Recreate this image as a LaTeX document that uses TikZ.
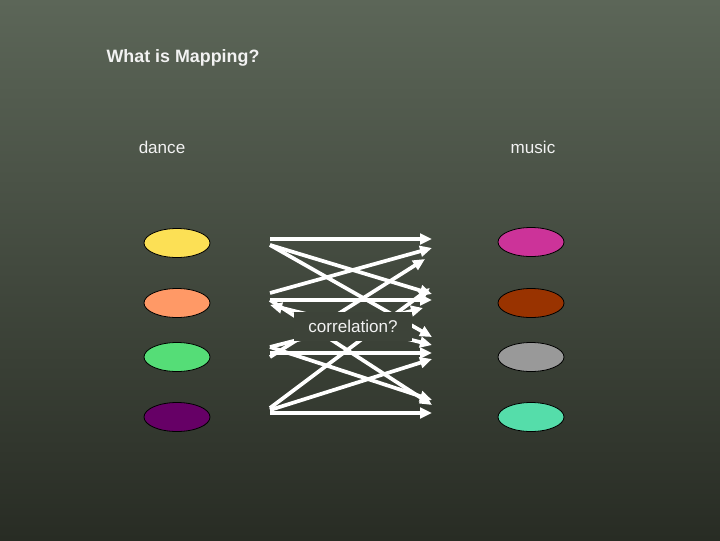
\documentclass[tikz,border=0pt]{standalone}
\usepackage{fontspec}
\setmainfont{Liberation Sans}
\usetikzlibrary{shapes.geometric,arrows.meta}
\definecolor{bgtop}{RGB}{92,102,88}
\definecolor{bgbottom}{RGB}{40,44,36}
\definecolor{bgmid}{RGB}{61,67,57}
\definecolor{txt}{RGB}{242,242,242}
\definecolor{danceA}{RGB}{252,224,85}
\definecolor{danceB}{RGB}{255,153,102}
\definecolor{danceC}{RGB}{85,221,119}
\definecolor{danceD}{RGB}{102,0,102}
\definecolor{musicA}{RGB}{204,51,153}
\definecolor{musicB}{RGB}{153,51,0}
\definecolor{musicC}{RGB}{153,153,153}
\definecolor{musicD}{RGB}{85,221,170}
\tikzset{%
  label text/.style={text=txt,font=\fontsize{12.8}{15}\selectfont},
  blob/.style={ellipse,draw=black,line width=0.6pt,
    minimum width=49.5pt,minimum height=21.75pt,inner sep=0pt},
  mapto/.style={draw=white,line width=2.8pt,
    -{Triangle[length=9pt,width=8pt]}},
  mapboth/.style={mapto,{Triangle[length=9pt,width=8pt]}-{Triangle[length=9pt,width=8pt]}},
}
\begin{document}
\begin{tikzpicture}[x=0.75pt,y=-0.75pt]
  % background
  \shade[top color=bgtop,bottom color=bgbottom] (0,0) rectangle (720,540);
  \useasboundingbox (0,0) rectangle (720,540);
  % headings
  \node[text=txt,font=\fontsize{13.4}{16}\selectfont\bfseries] (title) at (183,58) {What is Mapping?};
  \node[label text] (dance) at (162,147) {dance};
  \node[label text] (music) at (533,147) {music};
  % the two columns of ellipses
  \foreach \i/\y/\c in {1/243/danceA,2/303/danceB,3/357/danceC,4/417/danceD}
    \node[blob,fill=\c] (dance\i) at (177,\y) {};
  \foreach \i/\y/\c in {1/242/musicA,2/303/musicB,3/357/musicC,4/417/musicD}
    \node[blob,fill=\c] (music\i) at (531,\y) {};
  % ends of the arrows
  \foreach \n/\y in {1a/239,1b/245,2a/293,2b/300,2c/305,3a/347,3b/353,3c/357,4a/408,4b/410,4c/413}
    \coordinate (L\n) at (270,\y);
  \coordinate (R1a) at (432,239);
  \coordinate (R1b) at (432,248);
  \coordinate (R1c) at (425,259);
  \coordinate (R2a) at (430,288);
  \coordinate (R2b) at (432,294);
  \coordinate (R2c) at (432,300);
  \coordinate (R2d) at (423,308);
  \coordinate (R3a) at (432,337);
  \coordinate (R3b) at (432,345);
  \coordinate (R3c) at (432,353);
  \coordinate (R3d) at (432,359);
  \coordinate (R4a) at (432,400);
  \coordinate (R4b) at (432,405);
  \coordinate (R4c) at (432,413);
  % arrows
  \foreach \s/\t in {1a/1a,2a/1b,3c/1c,1b/2b,2b/2c,3a/2d,4a/2a,1b/3a,3b/3c,4b/3d,3a/4a,2b/4b,4c/4c}
    \draw[mapto] (L\s) -- (R\t);
  \draw[mapboth] (L2c) -- (R3b);
  % label masks the arrows behind it
  \node[label text,fill=bgmid,minimum width=88.5pt,minimum height=21.75pt] (corr) at (353,326) {correlation?};
\end{tikzpicture}
\end{document}
